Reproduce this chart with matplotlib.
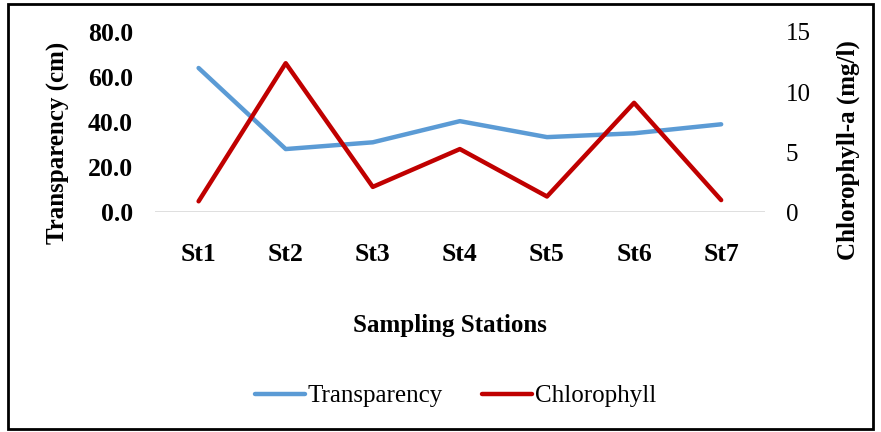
import matplotlib
matplotlib.use("Agg")
import matplotlib.pyplot as plt
from matplotlib.patches import Rectangle

# data
stations = ["St1", "St2", "St3", "St4", "St5", "St6", "St7"]
transparency = [64.0, 28.0, 31.0, 40.4, 33.3, 35.0, 39.0]
chlorophyll = [0.9, 12.4, 2.1, 5.25, 1.3, 9.1, 1.0]
left_ticks = [0, 20, 40, 60, 80]
right_ticks = [0, 5, 10, 15]

plt.rcParams['font.family'] = ['Liberation Serif', 'DejaVu Serif']

fig = plt.figure(figsize=(8.81, 4.32), dpi=100)
ax = fig.add_axes([0.176, 0.509, 0.692, 0.417])
ax2 = ax.twinx()

x = list(range(len(stations)))
l1, = ax.plot(x, transparency, color="#5B9BD5", linewidth=3.2, solid_capstyle="round", label="Transparency")
l2, = ax2.plot(x, chlorophyll, color="#C00000", linewidth=3.2, solid_capstyle="round", label="Chlorophyll")

ax.set_xlim(-0.5, len(stations) - 0.5)
ax.set_ylim(0, 80)
ax2.set_ylim(0, 15)
ax.set_yticks(left_ticks)
ax.set_yticklabels(["%.1f" % v for v in left_ticks], fontsize=18.5, fontweight="bold")
ax2.set_yticks(right_ticks)
ax2.set_yticklabels([str(v) for v in right_ticks], fontsize=18)
ax.set_xticks(x)
ax.set_xticklabels(stations, fontsize=18.5, fontweight="bold")

for a in (ax, ax2):
    for s in a.spines.values():
        s.set_visible(False)
    a.tick_params(length=0)
ax.tick_params(axis="x", pad=22)
ax.tick_params(axis="y", pad=16)
ax2.tick_params(axis="y", pad=15)
ax.axhline(0, color="#d9d9d9", linewidth=1.2, zorder=0)

ax.set_ylabel("Transparency (cm)", fontsize=18, fontweight="bold")
ax.yaxis.set_label_coords(-0.139, 0.383)
ax2.set_ylabel("Chlorophyll-a (mg/l)", fontsize=18, fontweight="bold")
ax2.yaxis.set_label_coords(1.118, 0.344)
fig.text(0.511, 0.246, "Sampling Stations", fontsize=18, fontweight="bold", ha="center", va="center")

fig.legend(handles=[l1, l2], loc="center", bbox_to_anchor=(0.517, 0.083), ncol=2, frameon=False,
           fontsize=18, handlelength=2.0, handletextpad=0.1, columnspacing=1.6)

# border round the whole chart
fig.patches.append(Rectangle((0.009, 0.008), 0.982, 0.983, transform=fig.transFigure,
                             fill=False, edgecolor="black", linewidth=2.0))

fig.savefig("out.png", dpi=100)
plt.close()
